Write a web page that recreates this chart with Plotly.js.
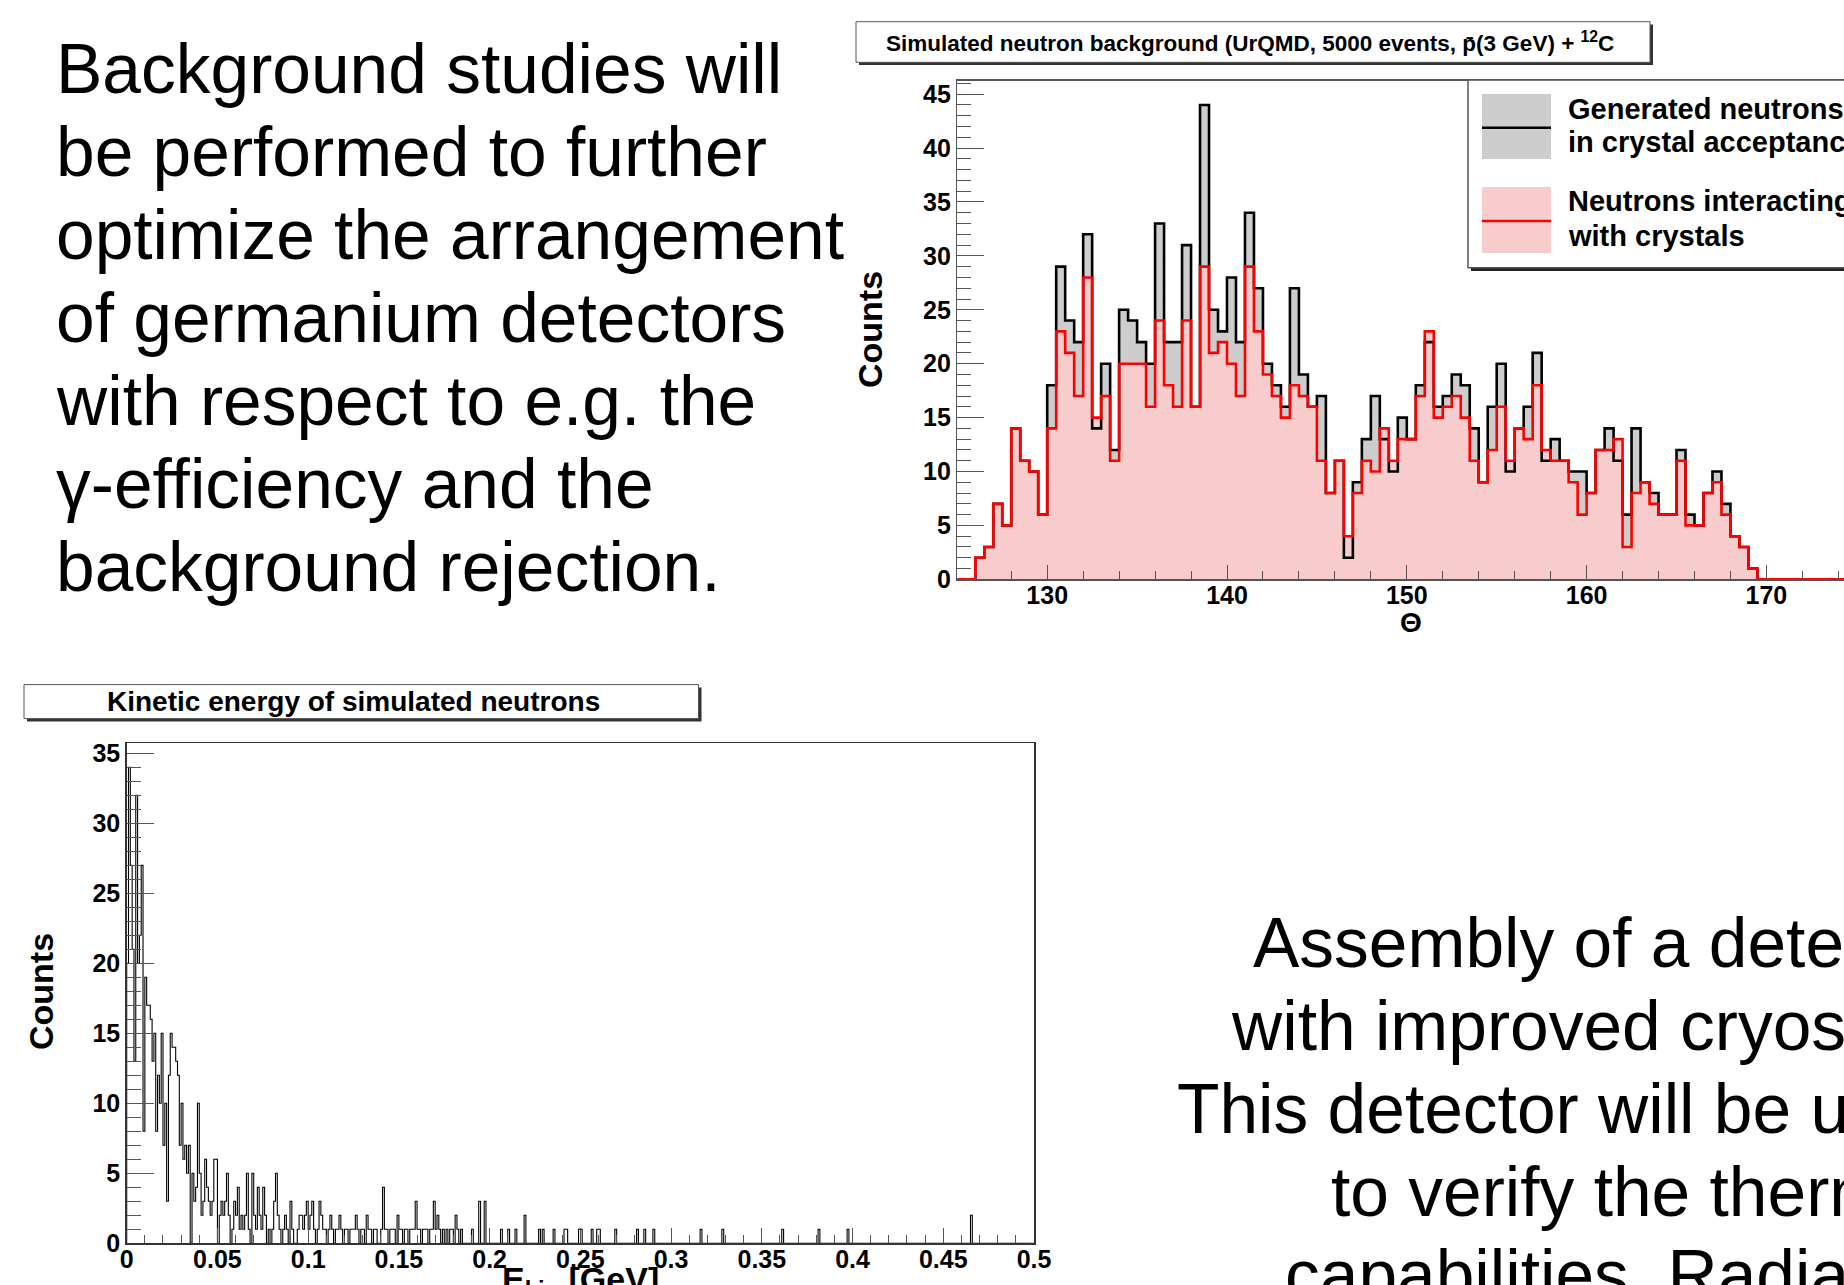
<!DOCTYPE html>
<html>
<head>
<meta charset="utf-8">
<script src="https://cdn.plot.ly/plotly-3.0.1.min.js"></script>
<style>
html,body{margin:0;padding:0;background:#ffffff;overflow:hidden;}
#wrap{width:1844px;height:1285px;overflow:hidden;position:relative;background:#fff;}
#chart{width:2000px;height:1285px;}
</style>
</head>
<body>
<div id="wrap"><div id="chart"></div></div>
<script>
// ---------------- DATA ----------------
// Top histogram: theta bins of 0.5 deg starting at 125 deg
const thetaStart = 125;
const thetaBinWidth = 0.5;
const generatedCounts = [
  0,0,2,3,7,5,14,11,10,6,
  18,29,24,22,32,14,20,12,25,24,
  22,20,33,22,22,31,16,44,25,23,
  28,22,34,27,20,18,16,27,19,16,
  17,8,11,2,9,13,17,13,10,15,
  13,18,22,16,17,19,18,14,9,16,
  20,10,14,16,21,11,13,11,10,10,
  8,12,14,11,6,14,9,8,6,6,
  12,6,5,8,10,7,4,3,1,0,
  0,0,0,0,0,0,0,0,0,0,0
];
const interactingCounts = [
  0,0,2,3,7,5,14,11,10,6,
  14,23,21,17,28,15,17,11,20,20,
  20,16,24,18,16,24,16,29,21,22,
  20,17,29,23,19,17,15,18,17,16,
  11,8,11,4,8,11,10,14,11,13,
  13,17,23,15,16,17,15,11,9,12,
  16,11,14,13,18,12,11,11,9,6,
  8,12,12,13,3,8,9,7,6,6,
  11,5,5,8,9,6,4,3,1,0,
  0,0,0,0,0,0,0,0,0,0,0
];
const thetaRange = [125, 175.5];
const topCountsRange = [0, 46.25];

// Bottom histogram: kinetic energy bins of 0.001 GeV
const energyBinWidth = 0.001;
const energyCountsLow = [   // bins 0 .. 199  (0 - 0.2 GeV)
  20,34,27,21,13,32,20,22,27,8,
  19,17,17,16,13,15,8,12,10,15,
  7,10,3,12,15,14,14,13,12,7,
  10,6,7,5,7,0,5,3,4,10,
  5,2,3,6,4,3,2,3,6,6,
  0,2,3,2,3,5,2,0,1,3,
  2,4,1,2,1,2,5,1,0,5,
  2,1,4,2,1,4,2,0,1,0,
  1,3,5,2,1,0,1,2,1,0,
  3,1,0,0,1,2,2,1,2,3,
  1,2,3,1,0,1,3,2,1,1,
  0,1,2,1,0,1,1,2,1,0,
  1,1,0,1,1,1,2,1,0,1,
  1,0,2,1,1,0,1,1,0,0,
  1,4,1,1,0,1,1,1,0,2,
  1,1,0,1,1,0,1,1,1,3,
  1,1,0,1,1,1,0,1,1,3,
  1,2,1,0,1,0,1,0,1,1,
  0,2,1,0,1,0,0,0,0,0,
  1,0,0,0,3,0,0,3,0,0
];
const energyTailBins   = [206,210,214,219,227,229,235,241,242,249,250,256,259,260,269,281,285,290,316,328,361,381,397,465];
const energyTailCounts = [  1,  1,  1,  2,  1,  1,  1,  1,  1,  1,  1,  1,  1,  1,  1,  1,  1,  1,  1,  1,  1,  1,  1,  2];
const energyNBins = 500;
const energyRange = [0, 0.5];
const bottomCountsRange = [0, 35.71];

// ---------------- BUILD STEP SERIES ----------------
function stepSeries(start, width, counts) {
  const x = [start], y = [0];
  for (let i = 0; i < counts.length; i++) { x.push(start + i * width); y.push(counts[i]); }
  x.push(start + counts.length * width); y.push(counts[counts.length - 1]);
  return {x, y};
}
const energyCounts = new Array(energyNBins).fill(0);
energyCountsLow.forEach((v, i) => { energyCounts[i] = v; });
energyTailBins.forEach((b, i) => { energyCounts[b] = energyTailCounts[i]; });

const gen = stepSeries(thetaStart, thetaBinWidth, generatedCounts);
const inter = stepSeries(thetaStart, thetaBinWidth, interactingCounts);
const ekin = stepSeries(0, energyBinWidth, energyCounts);

// ---------------- LAYOUT HELPERS ----------------
const W = 2000, H = 1285;
const fx = p => p / W;
const fy = p => 1 - p / H;
const FONT = 'Liberation Sans, Arial, Helvetica, sans-serif';
const TOP = {l: 957.3, r: 1865.3, t: 80.7, b: 579.3};
const BOT = {l: 126.7, r: 1034, t: 743.3, b: 1243.3};

const traces = [
  {x: gen.x, y: gen.y, xaxis: 'x', yaxis: 'y', mode: 'lines', line: {shape: 'hv', width: 0, color: 'rgba(0,0,0,0)'},
   fill: 'tozeroy', fillcolor: '#cdcdcd', hoverinfo: 'skip', name: 'Generated neutrons in crystal acceptance'},
  {x: inter.x, y: inter.y, xaxis: 'x', yaxis: 'y', mode: 'lines', line: {shape: 'hv', width: 0, color: 'rgba(0,0,0,0)'},
   fill: 'tozeroy', fillcolor: '#f8cccc', hoverinfo: 'skip', name: 'Neutrons interacting with crystals'},
  {x: gen.x, y: gen.y, xaxis: 'x', yaxis: 'y', mode: 'lines', line: {shape: 'hv', width: 2.6, color: '#000000'}, hoverinfo: 'skip'},
  {x: inter.x, y: inter.y, xaxis: 'x', yaxis: 'y', mode: 'lines', line: {shape: 'hv', width: 2.6, color: '#ff0000'}, hoverinfo: 'skip'},
  {x: ekin.x, y: ekin.y, xaxis: 'x2', yaxis: 'y2', mode: 'lines', line: {shape: 'hv', width: 1.1, color: '#000000'}, hoverinfo: 'skip'}
];

function axisBase(extra) {
  return Object.assign({
    showgrid: false, zeroline: false, showline: true, mirror: true,
    linecolor: '#555', linewidth: 1.5, ticks: 'inside', tickcolor: '#555', tickwidth: 1,
    tickfont: {family: FONT, size: 25, color: '#000', weight: 'bold'},
    fixedrange: true
  }, extra);
}

function txt(x, baseline, text, size, opts) {
  opts = opts || {};
  return Object.assign({
    xref: 'paper', yref: 'paper', x: fx(x), y: fy(baseline - 0.3465 * size),
    xanchor: 'left', yanchor: 'middle', showarrow: false, borderpad: 0,
    text: text, font: {family: FONT, size: size, color: '#000', weight: opts.bold ? 'bold' : 'normal'}
  }, opts.extra || {});
}

const bodySize = 69.5;
const leftLines = ['Background studies will', 'be performed to further', 'optimize the arrangement',
  'of germanium detectors', 'with respect to e.g. the', '\u03b3-efficiency and the', 'background rejection.'];
const rightLines = ['Assembly of a detector', 'with improved cryostat.', 'This detector will be used',
  'to verify the thermal', 'capabilities. Radiation'];
const rightStarts = [1252, 1230, 1176, 1330, 1284];

const annotations = [];
leftLines.forEach((t, i) => annotations.push(txt(55, 93 + 83 * i, t, bodySize)));
rightLines.forEach((t, i) => annotations.push(txt(rightStarts[i], 967 + 83 * i, t, bodySize)));

// chart titles
annotations.push({xref: 'paper', yref: 'paper', x: fx(1250), y: fy(42), xanchor: 'center', yanchor: 'middle', showarrow: false,
  text: 'Simulated neutron background (UrQMD, 5000 events, p\u0304(3 GeV) + <sup>12</sup>C',
  font: {family: FONT, size: 22.5, color: '#000', weight: 'bold'}});
annotations.push({xref: 'paper', yref: 'paper', x: fx(353), y: fy(701.6), xanchor: 'center', yanchor: 'middle', showarrow: false,
  text: 'Kinetic energy of simulated neutrons', font: {family: FONT, size: 28, color: '#000', weight: 'bold'}});
// axis titles
annotations.push({xref: 'paper', yref: 'paper', x: fx(870), y: fy(330), xanchor: 'center', yanchor: 'middle', showarrow: false,
  text: 'Counts', textangle: -90, font: {family: FONT, size: 34, color: '#000', weight: 'bold'}});
annotations.push({xref: 'paper', yref: 'paper', x: fx(41), y: fy(992), xanchor: 'center', yanchor: 'middle', showarrow: false,
  text: 'Counts', textangle: -90, font: {family: FONT, size: 34, color: '#000', weight: 'bold'}});
annotations.push({xref: 'paper', yref: 'paper', x: fx(1411), y: fy(622), xanchor: 'center', yanchor: 'middle', showarrow: false,
  text: '\u0398', font: {family: FONT, size: 28, color: '#000', weight: 'bold'}});
annotations.push({xref: 'paper', yref: 'paper', x: fx(580), y: fy(1281), xanchor: 'center', yanchor: 'middle', showarrow: false,
  text: 'E<sub>kin</sub> [GeV]', font: {family: FONT, size: 34, color: '#000', weight: 'bold'}});
// legend texts
annotations.push(txt(1567, 119, 'Generated neutrons', 29, {bold: true}));
annotations.push(txt(1567, 152, 'in crystal acceptance', 29, {bold: true}));
annotations.push(txt(1567, 211, 'Neutrons interacting', 29, {bold: true}));
annotations.push(txt(1567, 246, 'with crystals', 29, {bold: true}));

function rect(x0, y0, x1, y1, fill, line, lw) {
  return {type: 'rect', xref: 'paper', yref: 'paper', x0: fx(x0), x1: fx(x1), y0: fy(y1), y1: fy(y0),
    fillcolor: fill, line: {color: line || 'rgba(0,0,0,0)', width: lw || 0}, layer: 'above'};
}
function hline(x0, x1, y, color, w) {
  return {type: 'line', xref: 'paper', yref: 'paper', x0: fx(x0), x1: fx(x1), y0: fy(y), y1: fy(y),
    line: {color: color, width: w}, layer: 'above'};
}

const shapes = [
  // top title box with shadow
  rect(859, 24.5, 1653, 65, '#333'),
  rect(856, 21.7, 1650, 62.3, '#ffffff', '#555', 1),
  // bottom title box with shadow
  rect(27, 687.5, 701.5, 721.5, '#333'),
  rect(24, 684.6, 698.5, 718.6, '#ffffff', '#555', 1),
  // legend box with shadow
  rect(1471, 83, 2100, 271, '#222'),
  rect(1468, 80, 2100, 267.7, '#ffffff', '#555', 1.5),
  // legend swatches
  rect(1482, 94, 1551, 159, '#cdcdcd'),
  hline(1482, 1551, 127.7, '#000', 2.6),
  rect(1482, 187, 1551, 253, '#f8cccc'),
  hline(1482, 1551, 221, '#ff0000', 2.6)
];

const layout = {
  width: W, height: H,
  margin: {l: 0, r: 0, t: 0, b: 0},
  paper_bgcolor: '#ffffff', plot_bgcolor: 'rgba(0,0,0,0)',
  showlegend: false,
  font: {family: FONT, color: '#000'},
  xaxis: axisBase({domain: [fx(TOP.l), fx(TOP.r)], range: thetaRange, anchor: 'y',
    tickmode: 'linear', tick0: 130, dtick: 10, ticklen: 14, ticklabelstandoff: -7,
    minor: {ticks: 'inside', ticklen: 8, tickcolor: '#555', tickwidth: 1, tick0: 130, dtick: 2, showgrid: false}}),
  yaxis: axisBase({domain: [fy(TOP.b), fy(TOP.t)], range: topCountsRange, anchor: 'x',
    tickmode: 'linear', tick0: 0, dtick: 5, ticklen: 27, ticklabelstandoff: 0,
    minor: {ticks: 'inside', ticklen: 14, tickcolor: '#555', tickwidth: 1, dtick: 1, showgrid: false}}),
  xaxis2: axisBase({domain: [fx(BOT.l), fx(BOT.r)], range: energyRange, anchor: 'y2', linecolor: '#333',
    tickmode: 'linear', tick0: 0, dtick: 0.05, ticklen: 15, ticklabelstandoff: -7,
    minor: {ticks: 'inside', ticklen: 8, tickcolor: '#555', tickwidth: 1, dtick: 0.01, showgrid: false}}),
  yaxis2: axisBase({domain: [fy(BOT.b), fy(BOT.t)], range: bottomCountsRange, anchor: 'x2', linecolor: '#333',
    tickmode: 'linear', tick0: 0, dtick: 5, ticklen: 27, ticklabelstandoff: 0,
    minor: {ticks: 'inside', ticklen: 14, tickcolor: '#555', tickwidth: 1, dtick: 1, showgrid: false}}),
  shapes: shapes,
  annotations: annotations
};

Plotly.newPlot('chart', traces, layout, {staticPlot: true, displayModeBar: false});
</script>
</body>
</html>
